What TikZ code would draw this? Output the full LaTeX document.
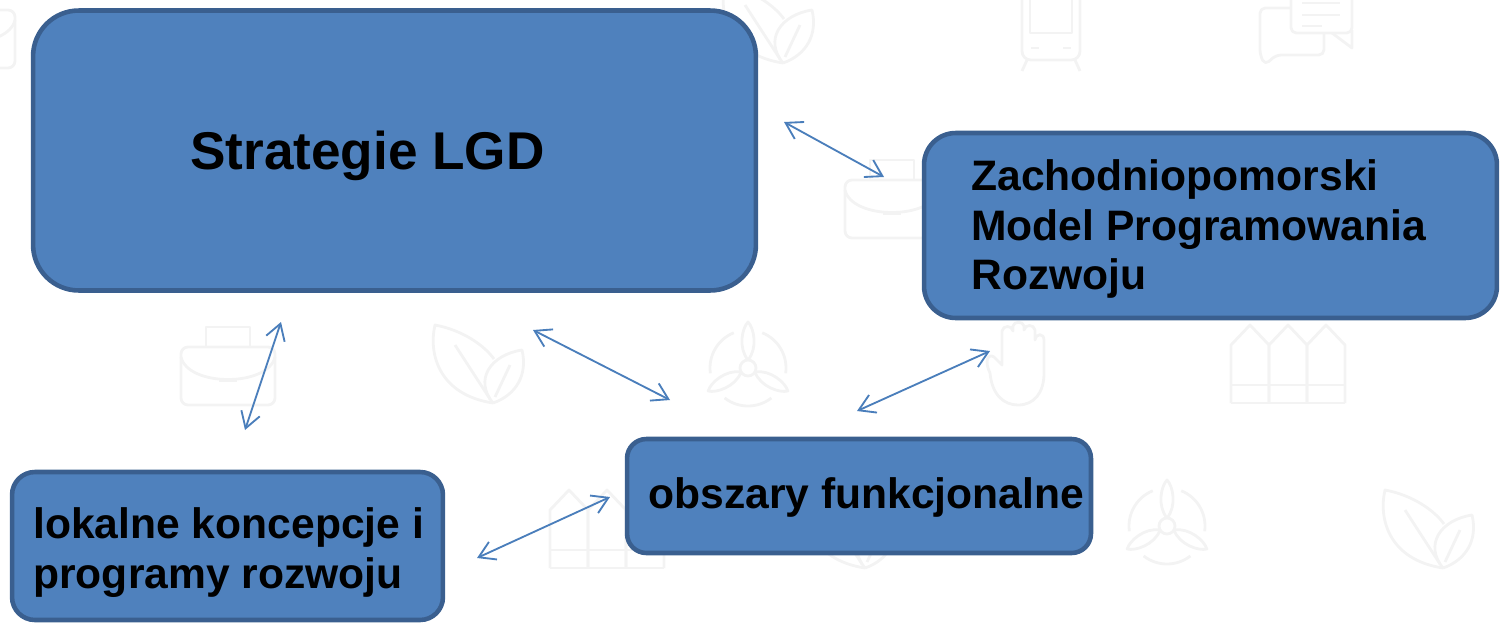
\documentclass[tikz,border=0pt]{standalone}
\usepackage{fontspec}
\setmainfont{Liberation Sans}
\usetikzlibrary{arrows.meta}
\definecolor{boxfill}{HTML}{4F81BD}
\definecolor{boxline}{HTML}{3A5F8F}
\definecolor{linkblue}{HTML}{4A7EBB}
\definecolor{iconline}{HTML}{F3F3F3}
\tikzset{
    box/.style={draw=boxline, fill=boxfill, line width=2.6pt, inner sep=0pt},
    label/.style={inner sep=0pt, align=left, anchor=west, font=\bfseries\fontsize{24.25}{28.4}\selectfont},
    link/.style={linkblue, line width=1.05pt, {Straight Barb[length=9pt,width=11pt]}-{Straight Barb[length=9pt,width=11pt]}},
    icon/.style={iconline, line width=1.6pt, line join=round},
    briefcase/.pic={
        \draw[icon, rounded corners=4pt] (-47,-18) rectangle (47,40);
        \draw[icon] (-22,-18) -- (-22,-38) -- (22,-38) -- (22,-18);
        \draw[icon] (-47,-8) .. controls (-40,22) and (40,22) .. (47,-8);
        \draw[icon] (-9,16) -- (9,16);
    },
    leaf/.pic={
        \draw[icon] (13,38) .. controls (-40,30) and (-52,-10) .. (-45,-40) .. controls (-18,-35) and (4,-20) .. (14,-6);
        \draw[icon] (-25,-20) -- (10,34);
        \draw[icon] (13,38) .. controls (-6,15) and (10,-10) .. (42,-15) .. controls (48,10) and (36,30) .. (13,38);
        \draw[icon] (15,32) -- (30,0);
    },
    turbine/.pic={
        \draw[icon] (0,0) circle[radius=8];
        \foreach \ang in {90,210,330} {
            \draw[icon, rotate=\ang] (8,0) .. controls (20,10) and (40,6) .. (46,0) .. controls (40,-6) and (20,-10) .. (8,0);
            \draw[icon, rotate=\ang] (22:38) arc[start angle=22, end angle=98, radius=38];
        }
    },
    hand/.pic={
        \draw[icon] (-24,8) .. controls (-22,30) and (-10,40) .. (4,40) .. controls (20,40) and (30,28) .. (30,8) -- (30,-25)
            .. controls (30,-32) and (22,-32) .. (21,-25) -- (21,-35) .. controls (20,-41) and (11,-41) .. (10,-35)
            -- (10,-39) .. controls (9,-44) and (0,-44) .. (-1,-39) -- (-1,-34) .. controls (-2,-40) and (-11,-40) .. (-12,-34)
            -- (-12,0) -- (-20,-8) .. controls (-26,-12) and (-30,-4) .. (-24,8);
    },
    fence/.pic={
        \foreach \xp in {-38,0,38} {
            \draw[icon, shift={(\xp,0)}] (-19,38) -- (-19,-20) -- (0,-40) -- (19,-20) -- (19,38);
        }
        \draw[icon] (-57,20) -- (57,20);
        \draw[icon] (-57,38) -- (57,38);
    },
    train/.pic={
        \draw[icon, rounded corners=5pt] (-29,-50) rectangle (29,30);
        \draw[icon] (-21,-40) rectangle (21,3);
        \draw[icon] (-20,18) -- (-12,18);
        \draw[icon] (12,18) -- (20,18);
        \draw[icon] (-24,30) -- (-29,41);
        \draw[icon] (24,30) -- (29,41);
    },
    speech/.pic={
        \draw[icon, rounded corners=3pt] (-7,-40) rectangle (54,3) ;
        \draw[icon] (34,3) -- (54,18) -- (54,0);
        \draw[icon, rounded corners=3pt] (-7,-22) -- (-38,-22) -- (-38,25) -- (-33,35) -- (-22,25) -- (26,25) -- (26,3);
        \draw[icon] (4,-27) -- (42,-27);
        \draw[icon] (4,-15) -- (42,-15);
        \draw[icon] (4,-4) -- (24,-4);
    }
}
\begin{document}
\begin{tikzpicture}[x=0.02cm, y=-0.02cm]
    \useasboundingbox (0,0) rectangle (1504,622);
    \clip (0,0) rectangle (1504,622);

    % Background icons
    \pic at (-32,28) {briefcase};
    \pic at (770,25) {leaf};
    \pic at (1051,30) {train};
    \pic at (1298,30) {speech};
    \pic at (228,365) {briefcase};
    \pic at (480,365) {leaf};
    \pic at (748,368) {turbine};
    \pic at (1014,365) {hand};
    \pic at (1288,365) {fence};
    \pic at (892,198) {briefcase};
    \pic at (607,530) {fence};
    \pic at (852,530) {leaf};
    \pic at (1167,526) {turbine};
    \pic at (1430,530) {leaf};

    % Nodes
    \node at (394.5,150.5) [box, rounded corners=26pt, minimum width=14.46cm, minimum height=5.6cm] (strategie) {};
    \node at (1210.5,225.5) [box, rounded corners=18pt, minimum width=11.46cm, minimum height=3.7cm] (model) {};
    \node at (859,496) [box, rounded corners=11pt, minimum width=9.28cm, minimum height=2.28cm] (obszary) {};
    \node at (227.5,546) [box, rounded corners=13pt, minimum width=8.62cm, minimum height=2.96cm] (lokalne) {};

    \node at (190,156) [label, font=\bfseries\fontsize{30.25}{34}\selectfont] (strategieText) {Strategie LGD};
    \node at (971,229) [label] (modelText) {Zachodniopomorski\\Model Programowania\\Rozwoju};
    \node at (648,497) [label] (obszaryText) {obszary funkcjonalne};
    \node at (33,553) [label] (lokalneText) {lokalne koncepcje i\\programy rozwoju};

    % Arrow ends
    \coordinate (strategieE) at (784,122);
    \coordinate (modelW) at (884,177);
    \coordinate (strategieS) at (281,322);
    \coordinate (lokalneN) at (245,430);
    \coordinate (strategieSE) at (533,330);
    \coordinate (obszaryNW) at (670,400);
    \coordinate (obszaryN) at (857,411);
    \coordinate (modelS) at (990,351);
    \coordinate (lokalneE) at (477,558);
    \coordinate (obszaryW) at (610,497);

    % Arrows
    \draw[link] (strategieE) -- (modelW);
    \draw[link] (strategieS) -- (lokalneN);
    \draw[link] (strategieSE) -- (obszaryNW);
    \draw[link] (obszaryN) -- (modelS);
    \draw[link] (lokalneE) -- (obszaryW);
\end{tikzpicture}
\end{document}
